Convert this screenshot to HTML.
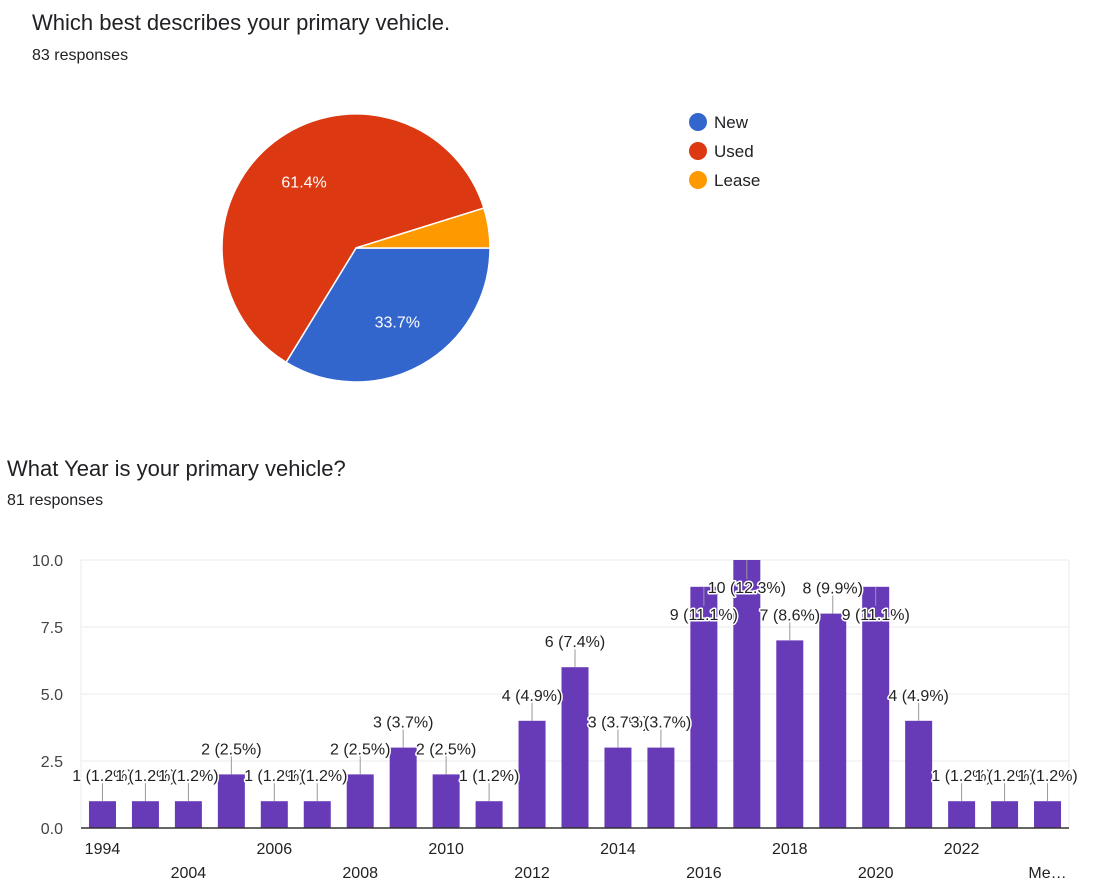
<!DOCTYPE html>
<html><head><meta charset="utf-8"><style>
html,body{margin:0;padding:0;background:#fff;width:1093px;height:895px;overflow:hidden;font-family:"Liberation Sans",Arial,sans-serif;color:#202124}
.t{position:absolute;white-space:nowrap}
</style></head><body>
<div class="t" style="left:32px;top:10px;font-size:22px;">Which best describes your primary vehicle.</div>
<div class="t" style="left:32px;top:47px;font-size:16px;">83 responses</div>
<div class="t" style="left:7px;top:456px;font-size:22px;">What Year is your primary vehicle?</div>
<div class="t" style="left:7px;top:492px;font-size:16px;">81 responses</div>

<svg id="pie" width="1093" height="420" style="position:absolute;left:0;top:0" font-family="Liberation Sans, Arial, sans-serif"></svg>
<svg id="bar" width="1093" height="895" style="position:absolute;left:0;top:0" font-family="Liberation Sans, Arial, sans-serif"></svg>

<script>
const pieLabels = ["New","Used","Lease"];
const pieValues = [28, 51, 4];
const pieColors = ["#3366cc","#dc3912","#ff9900"];

const barCategories = ["1994","2003","2004","2005","2006","2007","2008","2009","2010","2011","2012","2013","2014","2015","2016","2017","2018","2019","2020","2021","2022","2023","Me…"];
const barValues = [1,1,1,2,1,1,2,3,2,1,4,6,3,3,9,10,7,8,9,4,1,1,1];
const yTicks = [0, 2.5, 5, 7.5, 10];
const yTickLabels = ["0.0","2.5","5.0","7.5","10.0"];

const NS = "http://www.w3.org/2000/svg";
function mk(parent, tag, attrs, text){
  const e = document.createElementNS(NS, tag);
  for (const k in attrs) e.setAttribute(k, attrs[k]);
  if (text !== undefined) e.textContent = text;
  parent.appendChild(e);
  return e;
}

// ---- Pie ----
const pie = document.getElementById('pie');
const cx = 356, cy = 248, R = 134;
const total = pieValues.reduce((a,b)=>a+b,0);
let ang = 0;
pieValues.forEach((v,i)=>{
  const a0 = ang, a1 = ang + v/total*2*Math.PI;
  const x0 = cx + R*Math.cos(a0), y0 = cy + R*Math.sin(a0);
  const x1 = cx + R*Math.cos(a1), y1 = cy + R*Math.sin(a1);
  const large = (a1-a0) > Math.PI ? 1 : 0;
  const p = mk(pie,'path',{d:`M${cx},${cy} L${x0},${y0} A${R},${R} 0 ${large} 1 ${x1},${y1} Z`, fill:pieColors[i], stroke:'#fff','stroke-width':1.5});
  
  
  const pct = v/total*100;
  if (pct > 10) {
    const m = (a0+a1)/2, lr = R*0.63;
    const t = mk(pie,'text',{x:cx+lr*Math.cos(m), y:cy+lr*Math.sin(m)+6, 'text-anchor':'middle', fill:'#fff','font-size':16}, pct.toFixed(1)+'%');
    
    
  }
  const ly = 122 + i*29;
  const c = mk(pie,'circle',{cx:698, cy:ly, r:9, fill:pieColors[i]});
  
  
  const lt = mk(pie,'text',{x:714, y:ly+6, 'font-size':17, fill:'#202124'}, pieLabels[i]);
  
  
  ang = a1;
});

// ---- Bar ----
const bar = document.getElementById('bar');
const L = 81, Rr = 1069, top0 = 560, base = 828, yMax = 10;
const step = (Rr - L) / barCategories.length;
const bw = 27;
const yS = v => base - v/yMax*(base-top0);
const xC = i => L + step*(i+0.5);

yTicks.forEach((t,i)=>{
  const y = yS(t);
  const g = mk(bar,'line',{x1:L, x2:Rr, y1:y, y2:y, stroke: '#ebebeb', 'stroke-width':1});
  
  
  const tl = mk(bar,'text',{x:63, y:y+6, 'text-anchor':'end', 'font-size':16, fill:'#444'}, yTickLabels[i]);
  
  
});
const vl = mk(bar,'line',{x1:L, x2:L, y1:top0, y2:base, stroke:'#ebebeb'});


const vr = mk(bar,'line',{x1:Rr, x2:Rr, y1:top0, y2:base, stroke:'#ebebeb'});



const labelsLayer = [];
barValues.forEach((v,i)=>{
  const x = xC(i), y = yS(v);
  const r = mk(bar,'rect',{x:x-bw/2, y:y, width:bw, height:base-y, fill:'#673ab7'});
  
  
  let ly = y - 26;
  if (ly < 580) ly = y + 27;
  labelsLayer.push({x, y, ly, v});
  if (i % 2 === 0) {
    const xl = mk(bar,'text',{x:x, y: (i%4===0 ? 854 : 878), 'text-anchor':'middle','font-size':16, fill:'#222'}, barCategories[i]);
    
    
  }
});
const totalBars = barValues.reduce((a,b)=>a+b,0);
labelsLayer.forEach(o=>{
  const ln = mk(bar,'line',{x1:o.x, x2:o.x, y1:o.y, y2:o.ly+ (o.ly < o.y ? 8 : -8), stroke:'#999','stroke-width':1});
  
  
});
labelsLayer.forEach(o=>{
  const t = mk(bar,'text',{x:o.x, y:o.ly+6, 'text-anchor':'middle','font-size':16, fill:'#222', stroke:'#fff','stroke-width':3,'paint-order':'stroke','stroke-linejoin':'round'}, o.v + ' (' + (o.v/totalBars*100).toFixed(1) + '%)');
  
  
});
const ax = mk(bar,'line',{x1:L, x2:Rr, y1:base, y2:base, stroke:'#333','stroke-width':1.5});


</script>
</body></html>
